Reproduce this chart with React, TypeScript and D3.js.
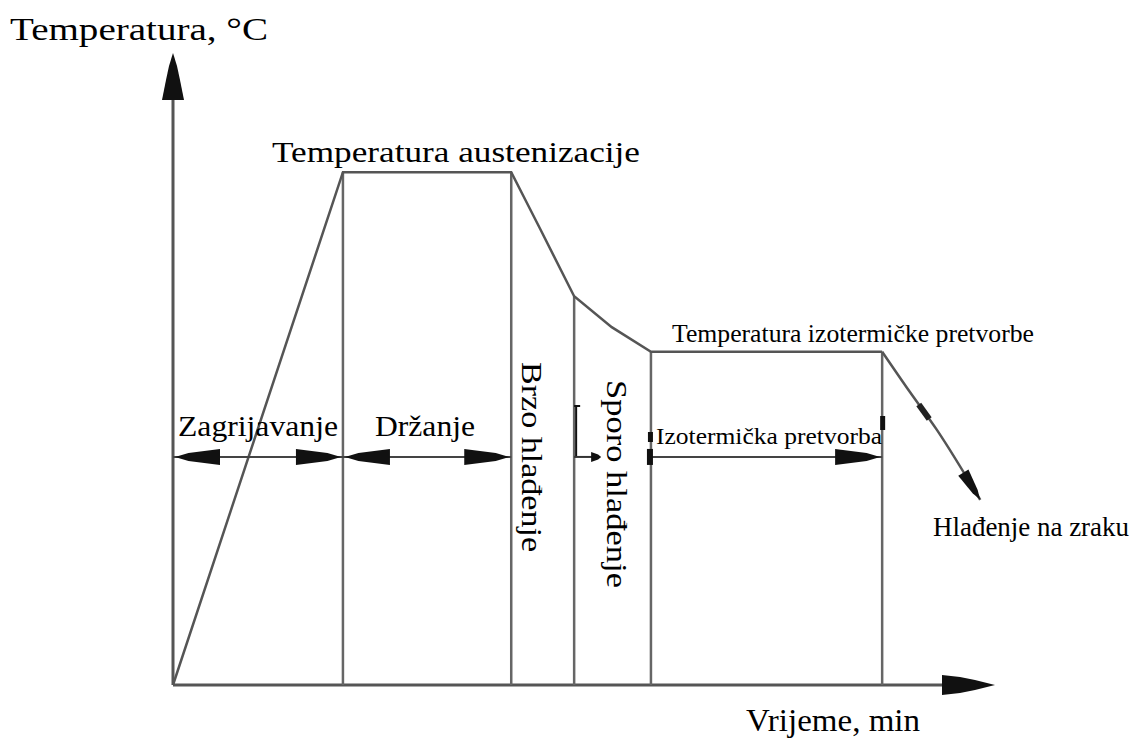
import React from "react";
import * as d3 from "d3";

// process curve (time units, temperature units)
const curveTime = [0, 20.8, 41.4, 44.9, 49.1, 53.7, 58.5, 86.8];
const curveTemp = [0, 81.4, 81.4, 72.5, 61.7, 56.8, 52.9, 52.9];

// air cooling tail after isothermal hold
const airTime = [86.8, 90.2, 93.5, 98.8];
const airTemp = [52.9, 46.5, 40.5, 29.4];

// stage boundaries (vertical lines)
const stageTime = [20.8, 41.4, 49.1, 58.5, 86.8];
const stageTemp = [81.4, 81.4, 61.7, 52.9, 52.9];

// horizontal double arrows for stage durations
const spanStart = [0, 20.8, 58.5];
const spanEnd = [20.8, 41.4, 86.8];
const spanLevel = 36.2;

const W = 1140;
const H = 742;
const font = "Liberation Serif";

const x = d3.scaleLinear().domain([0, 100]).range([173, 990]);
const y = d3.scaleLinear().domain([0, 100]).range([685, 55]);

const headRight = (tx: number, ty: number, len = 45, hw = 8) =>
  `${tx},${ty} ${tx - len * 0.3},${ty - hw * 0.5} ${tx - len},${ty - hw} ${tx - len},${ty + hw} ${tx - len * 0.3},${ty + hw * 0.5}`;
const headLeft = (tx: number, ty: number, len = 45, hw = 8) =>
  `${tx},${ty} ${tx + len * 0.3},${ty - hw * 0.5} ${tx + len},${ty - hw} ${tx + len},${ty + hw} ${tx + len * 0.3},${ty + hw * 0.5}`;

const App = () => {
  const mainPath = d3
    .line<number>()
    .x((d) => x(d))
    .y((d, i) => y(curveTemp[i]))(curveTime);
  const airPath = d3
    .line<number>()
    .x((d) => x(d))
    .y((d, i) => y(airTemp[i]))
    .curve(d3.curveMonotoneX)(airTime);
  const ys = y(spanLevel);

  // direction of the air-cooling arrow
  const n = airTime.length;
  const ax = x(airTime[n - 1]);
  const ay = y(airTemp[n - 1]);
  const bx = x(airTime[n - 2]);
  const by = y(airTemp[n - 2]);
  const ang = (Math.atan2(ay - by, ax - bx) * 180) / Math.PI;
  const ang1 =
    (Math.atan2(y(airTemp[2]) - y(airTemp[1]), x(airTime[2]) - x(airTime[1])) * 180) /
    Math.PI;

  return (
    <svg
      width={W}
      height={H}
      style={{ position: "absolute", left: 0, top: 0, background: "#fff" }}
    >
      {/* axes */}
      <line x1={x(0)} y1={y(0)} x2={x(0)} y2={95} stroke="#555" strokeWidth={3} />
      <line x1={x(0)} y1={y(0)} x2={950} y2={y(0)} stroke="#555" strokeWidth={3} />
      <polygon
        points={`${x(0)},53 ${x(0) + 4},66 ${x(0) + 7},80 ${x(0) + 11},100 ${x(0) - 11},100 ${x(0) - 7},80 ${x(0) - 4},66`}
        fill="#111"
      />
      <polygon
        points={`995,${y(0)} 975,${y(0) - 5} 960,${y(0) - 8} 942,${y(0) - 10} 942,${y(0) + 10} 960,${y(0) + 8} 975,${y(0) + 5}`}
        fill="#111"
      />

      {/* stage boundaries */}
      {stageTime.map((t, i) => (
        <line
          key={i}
          x1={x(t)}
          x2={x(t)}
          y1={y(0)}
          y2={y(stageTemp[i])}
          stroke="#666"
          strokeWidth={2.5}
        />
      ))}

      {/* process curve */}
      <path d={mainPath || ""} fill="none" stroke="#555" strokeWidth={2.5} />
      <path d={airPath || ""} fill="none" stroke="#555" strokeWidth={2.5} />
      <polygon
        points={headRight(0, 0, 32, 6)}
        transform={`translate(${ax},${ay}) rotate(${ang})`}
        fill="#111"
      />
      <rect
        x={-8}
        y={-3}
        width={18}
        height={6}
        transform={`translate(${(x(airTime[1]) + x(airTime[2])) / 2},${(y(airTemp[1]) + y(airTemp[2])) / 2}) rotate(${ang1})`}
        fill="#222"
      />

      {/* duration arrows */}
      {spanStart.map((s, i) => (
        <g key={i}>
          <line x1={x(s)} x2={x(spanEnd[i])} y1={ys} y2={ys} stroke="#444" strokeWidth={2} />
          {i < 2 && <polygon points={headLeft(x(s) + 2, ys)} fill="#111" />}
          <polygon points={headRight(x(spanEnd[i]) - 2, ys)} fill="#111" />
        </g>
      ))}
      {/* small marks around slow cooling stage */}
      <line x1={x(49.1) + 2} x2={x(49.1) + 2} y1={405} y2={ys} stroke="#111" strokeWidth={2} />
      <line x1={x(49.1)} x2={x(49.1) + 6} y1={406} y2={406} stroke="#111" strokeWidth={2} />
      <line x1={x(49.1)} x2={x(49.1) + 20} y1={ys} y2={ys} stroke="#333" strokeWidth={2} />
      <polygon points={headRight(x(49.1) + 27, ys, 10, 5)} fill="#111" />
      <rect x={x(58.5) - 4} y={ys - 8} width={6} height={16} fill="#111" />
      <rect x={x(58.5) - 3} y={432} width={5} height={10} fill="#111" />
      <rect x={x(86.8) - 2} y={416} width={5} height={14} fill="#111" />

      {/* labels */}
      <g fontFamily={font} fill="#000">
        <text x={10} y={40} fontSize={31} textLength={258} lengthAdjust="spacingAndGlyphs">
          Temperatura, °C
        </text>
        <text x={272} y={162} fontSize={29} textLength={368} lengthAdjust="spacingAndGlyphs">
          Temperatura austenizacije
        </text>
        <text x={178} y={436} fontSize={29} textLength={160} lengthAdjust="spacingAndGlyphs">
          Zagrijavanje
        </text>
        <text x={375} y={436} fontSize={29} textLength={100} lengthAdjust="spacingAndGlyphs">
          Držanje
        </text>
        <text x={672} y={342} fontSize={25} textLength={362} lengthAdjust="spacingAndGlyphs">
          Temperatura izotermičke pretvorbe
        </text>
        <text x={656} y={444} fontSize={23} textLength={226} lengthAdjust="spacingAndGlyphs">
          Izotermička pretvorba
        </text>
        <text
          transform="translate(522,362) rotate(90)"
          fontSize={29}
          textLength={190}
          lengthAdjust="spacingAndGlyphs"
        >
          Brzo hlađenje
        </text>
        <text
          transform="translate(607,380) rotate(90)"
          fontSize={29}
          textLength={208}
          lengthAdjust="spacingAndGlyphs"
        >
          Sporo hlađenje
        </text>
        <text x={933} y={536} fontSize={27} textLength={196} lengthAdjust="spacingAndGlyphs">
          Hlađenje na zraku
        </text>
        <text x={746} y={731} fontSize={31} textLength={174} lengthAdjust="spacingAndGlyphs">
          Vrijeme, min
        </text>
      </g>
    </svg>
  );
};

export default App;
